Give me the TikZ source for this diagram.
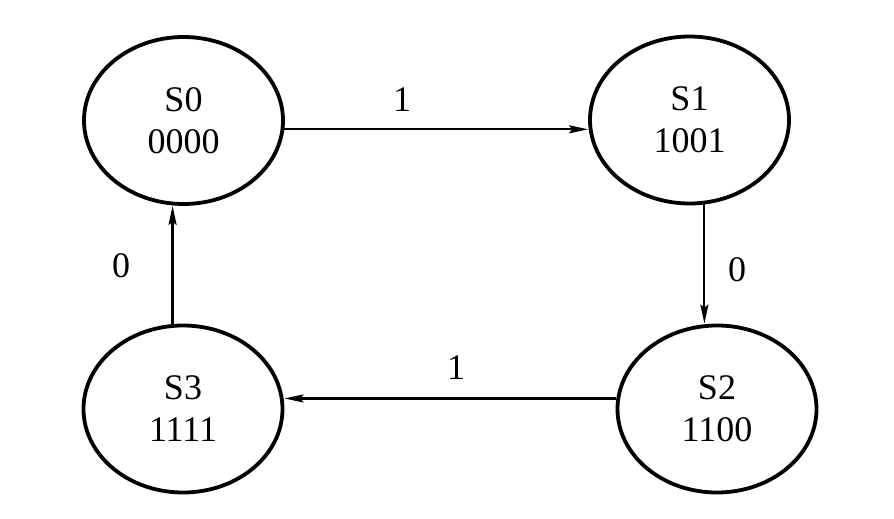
\documentclass[tikz,border=0pt]{standalone}
\usepackage{fontspec}
\setmainfont{Liberation Serif}
\usetikzlibrary{shapes.geometric,arrows.meta}
\begin{document}
\begin{tikzpicture}[x=1pt,y=-1pt,
  state/.style={ellipse,draw,line width=3.8pt,minimum width=199pt,minimum height=167pt,inner sep=0pt,align=center,font=\fontsize{36}{42}\selectfont},
  trans/.style={line width=2.2pt,-{Stealth[length=19pt,width=8pt,inset=3pt]}},
  lbl/.style={font=\fontsize{36}{42}\selectfont,inner sep=0pt}]
\useasboundingbox (0,0) rectangle (894,519);
\node[state] (s0) at (183.5,120.5) {S0\\0000};
\node[state] (s1) at (689.5,120) {S1\\1001};
\node[state] (s2) at (717,409) {S2\\1100};
\node[state] (s3) at (183,409) {S3\\1111};
\draw[trans] (s0.-5.5) -- (s0.-5.5 -| s1.west);
\draw[trans] (s1.-80.8) -- (s1.-80.8 |- s2.north);
\draw[trans] (s2.174.3) -- (s2.174.3 -| s3.east);
\draw[trans] (s3.97) -- (s3.97 |- s0.south);
\node[lbl] (l01) at (402,100) {1};
\node[lbl] (l12) at (737,270) {0};
\node[lbl] (l23) at (456,368) {1};
\node[lbl] (l30) at (121,266) {0};
\end{tikzpicture}
\end{document}
